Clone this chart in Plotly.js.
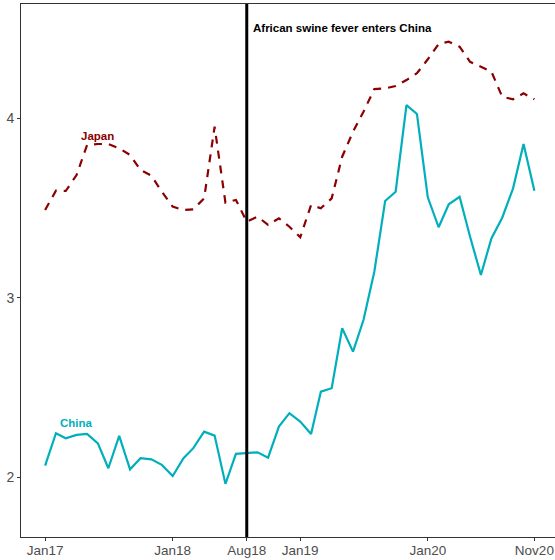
<!DOCTYPE html>
<html>
<head>
<meta charset="utf-8">
<script src="https://cdn.plot.ly/plotly-3.0.1.min.js"></script>
<style>html,body{margin:0;padding:0;background:#fff;}#chart{width:555px;height:560px;}</style>
</head>
<body>
<div id="chart"></div>
<script>
const months = [
  '2017-01-01','2017-02-01','2017-03-01','2017-04-01','2017-05-01','2017-06-01','2017-07-01','2017-08-01','2017-09-01','2017-10-01','2017-11-01','2017-12-01',
  '2018-01-01','2018-02-01','2018-03-01','2018-04-01','2018-05-01','2018-06-01','2018-07-01','2018-08-01','2018-09-01','2018-10-01','2018-11-01','2018-12-01',
  '2019-01-01','2019-02-01','2019-03-01','2019-04-01','2019-05-01','2019-06-01','2019-07-01','2019-08-01','2019-09-01','2019-10-01','2019-11-01','2019-12-01',
  '2020-01-01','2020-02-01','2020-03-01','2020-04-01','2020-05-01','2020-06-01','2020-07-01','2020-08-01','2020-09-01','2020-10-01','2020-11-01'
];
const china = [
  2.065,2.245,2.217,2.236,2.241,2.189,2.050,2.230,2.044,2.106,2.100,2.069,
  2.007,2.106,2.162,2.254,2.232,1.963,2.130,2.134,2.139,2.109,2.282,2.357,
  2.310,2.241,2.477,2.496,2.830,2.700,2.876,3.145,3.539,3.591,4.074,4.024,
  3.560,3.393,3.521,3.563,3.340,3.127,3.331,3.446,3.610,3.857,3.597
];
const japan = [
  3.489,3.597,3.595,3.684,3.851,3.857,3.857,3.833,3.796,3.712,3.680,3.591,
  3.508,3.489,3.493,3.554,3.953,3.530,3.545,3.424,3.452,3.406,3.443,3.396,
  3.337,3.517,3.499,3.554,3.786,3.925,4.037,4.163,4.167,4.180,4.213,4.251,
  4.329,4.414,4.427,4.399,4.315,4.287,4.260,4.120,4.106,4.139,4.106
];
const tickVals = ['2017-01-01','2018-01-01','2018-08-01','2019-01-01','2020-01-01','2020-11-01'];
const tickText = ['Jan17','Jan18','Aug18','Jan19','Jan20','Nov20'];
const eventDate = '2018-08-01';
const eventText = 'African swine fever enters China';

const font = 'Liberation Sans, Arial, sans-serif';

const traces = [
  {x: months, y: japan, type: 'scatter', mode: 'lines', name: 'Japan',
   line: {color: '#8B0000', width: 2.2, dash: '8px,7px'}, hoverinfo: 'skip'},
  {x: months, y: china, type: 'scatter', mode: 'lines', name: 'China',
   line: {color: '#00AFBB', width: 2.2}, hoverinfo: 'skip'}
];

const layout = {
  width: 555, height: 560,
  margin: {l: 21, r: 0, t: 4, b: 23, pad: 0},
  paper_bgcolor: '#ffffff', plot_bgcolor: '#ffffff',
  showlegend: false,
  font: {family: font},
  xaxis: {
    type: 'date', range: ['2016-10-24', '2020-12-30'],
    tickvals: tickVals, ticktext: tickText,
    showgrid: false, zeroline: false,
    showline: true, linecolor: '#333333', linewidth: 1, mirror: true,
    ticks: 'outside', ticklen: 3, tickcolor: '#333333', tickwidth: 1,
    ticklabelstandoff: -2,
    tickfont: {family: font, size: 13.5, color: '#4D4D4D'}
  },
  yaxis: {
    range: [1.667, 4.637], tickvals: [2, 3, 4], ticktext: ['2', '3', '4'],
    showgrid: false, zeroline: false,
    showline: true, linecolor: '#333333', linewidth: 1,
    ticks: 'outside', ticklen: 3, tickcolor: '#333333', tickwidth: 1,
    tickfont: {family: font, size: 14, color: '#4D4D4D'}
  },
  shapes: [
    {type: 'line', xref: 'x', yref: 'paper', x0: eventDate, x1: eventDate, y0: 0, y1: 1,
     line: {color: '#000000', width: 3}}
  ],
  annotations: [
    {x: eventDate, y: 4.505, xref: 'x', yref: 'y', text: '<b>' + eventText + '</b>',
     showarrow: false, xanchor: 'left', yanchor: 'middle', xshift: 4,
     font: {family: font, size: 11.5, color: '#000000'}},
    {x: '2017-06-01', y: 3.901, xref: 'x', yref: 'y', text: '<b>Japan</b>',
     showarrow: false, xanchor: 'center', yanchor: 'middle',
     font: {family: font, size: 11.5, color: '#8B0000'}},
    {x: '2017-04-01', y: 2.301, xref: 'x', yref: 'y', text: '<b>China</b>',
     showarrow: false, xanchor: 'center', yanchor: 'middle',
     font: {family: font, size: 11.5, color: '#00AFBB'}}
  ]
};

Plotly.newPlot('chart', traces, layout, {displayModeBar: false, staticPlot: true});
</script>
</body>
</html>
